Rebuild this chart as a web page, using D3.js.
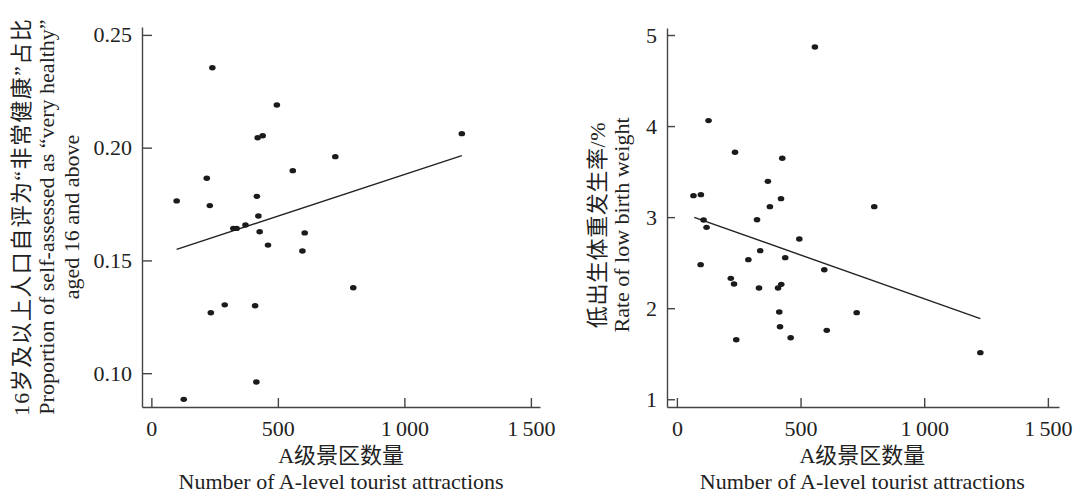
<!DOCTYPE html>
<meta charset="utf-8">
<style>
  body { margin: 0; background: #fff; }
  svg { display: block; }
  text {
    font-family: "Liberation Serif", "Noto Sans CJK SC", serif;
    fill: #222;
  }
  .axis path, .axis line {
    stroke: #444;
    stroke-width: 1.4;
  }
  .axis text {
    font-size: 22px;
    font-family: "Liberation Serif", serif;
    fill: #222;
  }
  .title { font-size: 22px; }
  .dot { fill: #1b1b1b; }
  .trend { stroke: #222; stroke-width: 1.4; fill: none; }
</style>
<body>
<script src="https://d3js.org/d3.v7.min.js"></script>
<script>

// left panel: A-level attractions vs share "very healthy" (aged 16+)
var healthX = [241, 496, 420, 440, 1227, 727, 559, 219, 100, 231, 417, 423, 372, 324, 337,
               428, 606, 461, 597, 798, 290, 410, 235, 415, 128];
var healthY = [0.2354, 0.2189, 0.2044, 0.2053, 0.2062, 0.1960, 0.1898, 0.1864, 0.1764, 0.1743,
               0.1784, 0.1697, 0.1657, 0.1642, 0.1642, 0.1627, 0.1622, 0.1568, 0.1542, 0.1379,
               0.1303, 0.1299, 0.1268, 0.0961, 0.0884];
var healthTrendX = [100, 1227];
var healthTrendY = [0.1549, 0.1965];
var healthTicks = [0.10, 0.15, 0.20, 0.25];

// right panel: A-level attractions vs low birth weight rate
var birthX = [558, 128, 235, 426, 368, 67, 97, 421, 376, 798, 108, 324, 120, 495, 337, 438,
              289, 96, 596, 218, 231, 332, 409, 422, 414, 727, 417, 606, 460, 240, 1227];
var birthY = [4.868, 4.06, 3.712, 3.646, 3.393, 3.236, 3.247, 3.203, 3.115, 3.115, 2.969, 2.972,
              2.888, 2.760, 2.632, 2.555, 2.533, 2.478, 2.423, 2.328, 2.266, 2.222, 2.222, 2.262,
              1.958, 1.951, 1.797, 1.757, 1.676, 1.654, 1.512];
var birthTrendX = [70, 1227];
var birthTrendY = [2.998, 1.885];
var birthTicks = [1, 2, 3, 4, 5];

var xTicks = [0, 500, 1000, 1500];
var xTickLabels = ["0", "500", "1\u2009000", "1\u2009500"];

var xTitleCn = "A级景区数量";
var xTitleEn = "Number of A-level tourist attractions";
var healthTitle = ["16岁及以上人口自评为\u201c非常健康\u201d占比",
                   "Proportion of self-assessed as \u201cvery healthy\u201d",
                   "aged 16 and above"];
var birthTitle = ["低出生体重发生率/%", "Rate of low birth weight"];

var width = 1073, height = 498;

var svg = d3.select("body").append("svg")
    .attr("width", width)
    .attr("height", height);

function panel(opt) {
  var x = d3.scaleLinear().domain(opt.xDomain).range(opt.xRange);
  var y = d3.scaleLinear().domain(opt.yDomain).range(opt.yRange);
  var g = svg.append("g");

  g.append("g")
      .attr("class", "axis")
      .attr("transform", "translate(0," + opt.yRange[0] + ")")
      .call(d3.axisBottom(x)
          .tickValues(xTicks)
          .tickFormat(function(d, i) { return xTickLabels[i]; })
          .tickSizeInner(-9)
          .tickSizeOuter(0)
          .tickPadding(13));

  g.append("g")
      .attr("class", "axis")
      .attr("transform", "translate(" + opt.xRange[0] + ",0)")
      .call(d3.axisLeft(y)
          .tickValues(opt.yTicks)
          .tickFormat(opt.yFormat)
          .tickSizeInner(-opt.yTickLen)
          .tickSizeOuter(0)
          .tickPadding(10));

  g.selectAll(".axis text").attr("fill", "#222");

  g.append("line")
      .attr("class", "trend")
      .attr("x1", x(opt.trendX[0])).attr("y1", y(opt.trendY[0]))
      .attr("x2", x(opt.trendX[1])).attr("y2", y(opt.trendY[1]));

  g.selectAll(".dot")
      .data(opt.xs)
      .enter().append("ellipse")
      .attr("class", "dot")
      .attr("cx", function(d) { return x(d); })
      .attr("cy", function(d, i) { return y(opt.ys[i]); })
      .attr("rx", 3.3)
      .attr("ry", 2.7);

  var cx = (x(0) + x(1500)) / 2;
  g.append("text").attr("class", "title")
      .attr("x", cx).attr("y", 463)
      .attr("text-anchor", "middle")
      .text(xTitleCn);
  g.append("text").attr("class", "title")
      .attr("x", cx).attr("y", 489)
      .attr("text-anchor", "middle")
      .text(xTitleEn);

  opt.yTitle.forEach(function(t, i) {
    g.append("text").attr("class", "title")
        .attr("transform", "translate(" + opt.yTitleX[i] + "," + opt.yTitleY + ") rotate(-90)")
        .attr("text-anchor", "middle")
        .style("letter-spacing", opt.yTitleSpacing[i] + "px")
        .text(t);
  });
}

panel({
  xs: healthX, ys: healthY,
  trendX: healthTrendX, trendY: healthTrendY,
  xDomain: [-37, 1536], xRange: [142, 540],
  yDomain: [0.085, 0.2535], yRange: [407, 27],
  yTicks: healthTicks, yFormat: d3.format(".2f"), yTickLen: 10,
  yTitle: healthTitle, yTitleX: [29, 54, 79], yTitleY: 217,
  yTitleSpacing: [1.4, 0, 0]
});

panel({
  xs: birthX, ys: birthY,
  trendX: birthTrendX, trendY: birthTrendY,
  xDomain: [-40, 1545], xRange: [667, 1059],
  yDomain: [0.915, 5.077], yRange: [407, 28],
  yTicks: birthTicks, yFormat: d3.format("d"), yTickLen: 8,
  yTitle: birthTitle, yTitleX: [605, 629], yTitleY: 225,
  yTitleSpacing: [0.6, 0]
});

</script>
</body>
</html>
